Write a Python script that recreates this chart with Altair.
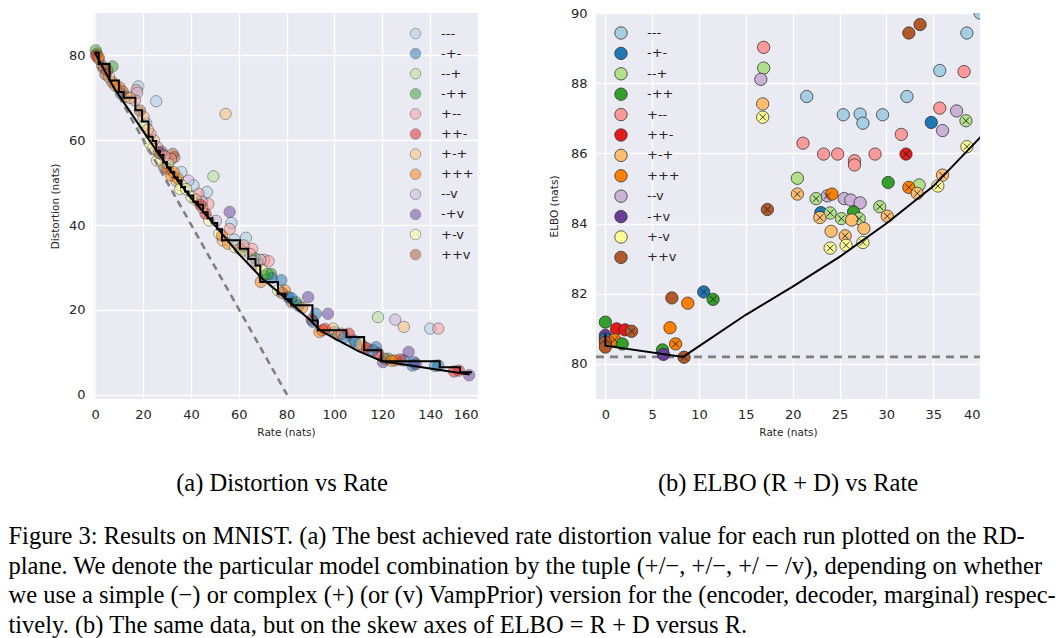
import altair as alt
import pandas as pd

# ---------------- data ----------------
groups = ["---", "-+-", "--+", "-++", "+--", "++-", "+-+", "+++", "--v", "-+v", "+-v", "++v"]
colors = ["#a6cee3", "#1f78b4", "#b2df8a", "#33a02c", "#fb9a99", "#e31a1c",
          "#fdbf6f", "#ff7f00", "#cab2d6", "#6a3d9a", "#ffff99", "#b15928"]

# (a) distortion vs rate: every run
left_group = ["---", "+--", "--+", "--v", "+-+", "-+v", "-+v", "-+v", "--+", "+-+",
              "---", "---", "+--", "--v", "-++", "---", "+--", "+--", "---", "+--",
              "---", "+--", "+--", "---", "--v", "---", "++v", "++v", "+--", "-+v",
              "-+-", "-+-", "++-", "-+-", "-+-", "++-", "+++", "-+-", "-+-", "-+-",
              "-+-", "++-", "-+v", "-+v", "-++", "+++", "++-", "+++", "++-", "-+-",
              "-++", "+++", "+++", "++v", "-+-", "-++", "+-v", "+--", "+-+", "-++",
              "+-+", "+++", "+-v", "++v", "+-v", "+-v", "++-", "+-+", "+-v", "+-v",
              "+-+", "+++", "+++", "++v", "+-v", "---", "+--", "+-+", "+--", "---",
              "+-+", "++v", "+--", "++v", "-+-", "+++", "++v", "+-+", "++v", "++v",
              "++v", "++v", "-++", "++-", "+++", "+-+", "+++", "+--", "-+-", "+-+",
              "++v", "-++", "-+-", "+++", "+--", "--v", "-+-", "+-v", "--+", "-+v",
              "+-v", "+-v", "+++", "--v", "---",
              "+-v", "+-+", "++v", "+--", "+++", "+-v", "+-+", "++-", "--v", "+++",
              "--+", "+--", "--v", "+-v", "-++", "++v", "-+-", "+++", "-+-", "++-",
              "-+-", "++-", "-+-", "+++", "-+v", "-+-", "++-", "++v", "++v", "+++",
              "++v", "+-+"]
left_rate = [140.0, 143.4, 118.2, 125.4, 129.0, 97.3, 89.0, 56.2, 49.4, 54.5,
             25.5, 18.0, 17.3, 17.6, 7.2, 63.0, 70.6, 65.6, 56.9, 56.2,
             46.7, 47.3, 43.2, 41.1, 38.9, 36.0, 33.1, 32.4, 31.7, 131.0,
             117.4, 108.1, 106.0, 100.1, 92.2, 90.5, 93.7, 129.0, 133.3, 132.6,
             143.4, 152.0, 156.3, 120.3, 122.5, 125.4, 127.5, 112.4, 118.2, 77.8,
             73.5, 69.2, 79.3, 82.1, 80.7, 83.9, 76.4, 64.8, 67.7, 67.0,
             53.3, 55.5, 58.4, 60.5, 51.9, 47.6, 46.1, 44.7, 40.3, 36.0,
             33.9, 31.7, 30.3, 28.8, 25.9, 27.4, 25.9, 24.5, 23.1, 21.3,
             20.2, 18.7, 16.6, 13.0, 10.8, 10.1, 7.2, 5.8, 5.0, 2.9,
             1.4, 0.7, 0.2, 0.3, 1.4, 99.4, 101.6, 103.0, 108.8, 111.0,
             121.0, 70.5, 73.8, 95.0, 72.5, 69.0, 82.0, 35.5, 30.5, 27.8,
             22.5, 24.0, 34.5, 44.5, 58.2,
             20.5, 22.0, 26.5, 29.0, 32.8, 38.0, 42.0, 44.0, 50.5, 53.0,
             61.5, 62.0, 66.0, 69.5, 72.0, 78.0, 85.0, 86.5, 91.0, 96.0,
             104.0, 113.5, 116.0, 124.0, 134.0, 142.0, 150.0, 3.5, 4.3, 8.5,
             11.5, 14.5]
left_dist = [15.6, 15.6, 18.3, 17.7, 16.0, 19.1, 23.0, 43.1, 51.5, 66.2,
             69.2, 72.7, 71.8, 71.2, 77.4, 37.0, 31.8, 34.4, 40.5, 39.1,
             47.8, 45.0, 47.4, 49.4, 50.5, 52.5, 56.0, 56.8, 55.6, 10.1,
             11.2, 12.8, 14.4, 14.8, 19.1, 17.7, 14.8, 8.1, 7.7, 6.9,
             6.9, 5.7, 4.6, 7.7, 8.5, 8.1, 8.3, 11.2, 9.8, 27.0,
             28.5, 26.6, 24.6, 21.8, 23.0, 21.8, 24.6, 33.2, 30.9, 32.1,
             36.4, 35.6, 34.8, 34.4, 38.0, 41.1, 42.7, 44.2, 46.6, 49.4,
             50.5, 51.7, 53.3, 53.7, 55.2, 56.8, 58.4, 60.0, 61.5, 64.0,
             65.5, 67.0, 69.4, 70.2, 71.0, 72.5, 73.7, 74.9, 76.5, 77.6,
             79.2, 80.4, 81.2, 80.0, 79.6, 15.6, 14.0, 14.4, 12.4, 12.0,
             8.5, 28.0, 27.5, 15.2, 31.5, 31.8, 22.8, 48.5, 54.5, 57.3,
             59.5, 58.0, 51.0, 45.5, 36.6,
             63.5, 62.5, 57.0, 56.2, 52.5, 48.5, 46.0, 44.8, 41.0, 37.5,
             34.0, 35.2, 31.5, 29.5, 28.5, 24.0, 21.0, 20.5, 17.2, 15.5,
             13.5, 11.0, 10.5, 8.0, 7.2, 6.8, 5.5, 77.0, 75.5, 72.8,
             71.5, 70.0]

# best distortion found so far (staircase) and the convex frontier
stair_rate = [0.0, 1.5, 6.0, 9.9, 11.9, 16.8, 19.6, 22.3, 24.0, 25.5, 27.0, 28.5, 30.0,
              31.5, 33.0, 34.5, 36.0, 37.5, 39.0, 41.0, 43.0, 45.0, 47.0, 49.0, 51.0,
              53.0, 60.5, 64.0, 67.0, 69.0, 76.4, 79.5, 82.0, 90.8, 93.0, 105.0,
              112.4, 119.6, 144.0, 152.5, 157.0]
stair_dist = [80.6, 78.0, 74.1, 71.4, 70.0, 67.1, 64.4, 60.8, 59.8, 57.5, 56.5, 54.8, 53.6,
              52.5, 51.2, 50.5, 49.0, 47.9, 47.0, 45.5, 44.8, 43.0, 41.6, 40.5, 39.0,
              36.4, 34.4, 32.0, 30.5, 26.6, 23.8, 22.5, 21.1, 17.5, 15.2, 13.6,
              10.5, 7.9, 6.5, 5.3, 5.0]
hull_rate = [0.0, 0.0, 8.3, 15.0, 20.0, 25.0, 30.0, 35.0, 40.0, 50.0, 60.0, 70.0, 80.0,
             85.0, 90.0, 94.0, 100.0, 110.0, 120.0, 140.0, 156.5]
hull_dist = [80.86, 80.52, 71.9, 66.4, 62.2, 58.05, 54.0, 50.06, 46.45, 40.0, 33.2, 27.3,
             22.6, 20.0, 17.5, 15.2, 13.3, 10.3, 7.9, 6.2, 4.8]
bound_rate = [0.0, 80.2]
bound_dist = [80.2, 0.0]

# (b) ELBO vs rate
right_group = ["++v", "++v", "---", "---", "+--", "--+", "--v", "+-+", "+-v", "---",
               "+--", "---", "---", "+--", "--v", "-+-", "--v", "--+", "---", "---",
               "---", "---", "+--", "++-", "+--", "+--", "+--", "+--", "+--", "+--",
               "+-v", "-++", "--+", "+++", "+-+", "+-+", "+-v", "--+", "+-+", "--+",
               "--v", "+++", "--v", "--v", "--v", "-+-", "--+", "+-+", "-++", "--+",
               "--+", "+-+", "--+", "+-+", "+-+", "+-+", "+-+", "+-v", "+-v", "+-v",
               "++v", "-+-", "-++", "++v", "+++", "+++", "+++", "-++", "-+v", "++v",
               "-++", "++-", "++-", "++v", "-+v", "-+-", "+++", "-++", "++v", "++v"]
right_rate = [32.4, 33.6, 38.6, 40.0, 16.9, 16.9, 16.6, 16.8, 16.8, 35.7,
              38.3, 21.5, 32.2, 35.7, 37.5, 34.8, 36.0, 38.5, 25.4, 27.2,
              27.5, 29.6, 31.6, 32.1, 21.1, 23.3, 24.8, 26.6, 26.6, 28.8,
              38.6, 30.2, 33.5, 32.4, 33.3, 36.0, 35.5, 20.5, 20.5, 22.5,
              23.7, 24.2, 25.5, 26.2, 27.2, 23.0, 24.0, 22.9, 26.5, 25.2,
              27.1, 26.3, 29.3, 30.1, 24.1, 27.6, 25.6, 24.0, 25.7, 27.5,
              17.3, 10.5, 11.5, 7.1, 8.8, 6.9, 7.5, 6.1, 6.2, 8.4,
              0.0, 1.2, 2.1, 2.8, 0.0, 0.0, 1.0, 1.8, 0.0, 0.0]
right_elbo = [89.43, 89.67, 89.43, 90.0, 89.02, 88.43, 88.11, 87.41, 87.03, 88.36,
              88.33, 87.62, 87.62, 87.29, 87.21, 86.88, 86.65, 86.93, 87.10, 87.12,
              86.86, 87.10, 86.54, 85.98, 86.29, 85.98, 85.98, 85.79, 85.67, 85.98,
              86.19, 85.17, 85.10, 85.03, 84.86, 85.38, 85.07, 85.29, 84.84, 84.71,
              84.79, 84.84, 84.71, 84.67, 84.59, 84.31, 84.30, 84.17, 84.33, 84.14,
              84.14, 84.10, 84.48, 84.21, 83.78, 83.86, 83.65, 83.30, 83.38, 83.46,
              84.40, 82.05, 81.84, 81.88, 81.73, 81.03, 80.57, 80.40, 80.27, 80.19,
              81.19, 81.00, 80.97, 80.93, 80.81, 80.71, 80.69, 80.57, 80.62, 80.48]
right_marked = [0, 0, 0, 0, 0, 0, 0, 0, 1, 0,
                0, 0, 0, 0, 0, 0, 0, 1, 0, 0,
                0, 0, 0, 1, 0, 0, 0, 0, 0, 0,
                1, 0, 0, 1, 1, 1, 1, 0, 1, 1,
                1, 0, 0, 0, 0, 0, 1, 1, 0, 1,
                1, 0, 1, 1, 0, 0, 1, 1, 1, 1,
                1, 1, 1, 0, 0, 0, 1, 0, 0, 1,
                0, 0, 0, 1, 0, 0, 1, 0, 0, 0]
best_elbo_rate = [-1.0, 40.0]
best_elbo = [80.2, 80.2]

caption_a = "(a) Distortion vs Rate"
caption_b = "(b) ELBO (R + D) vs Rate"
caption_lines = [
    "Figure 3: Results on MNIST. (a) The best achieved rate distortion value for each run plotted on the RD-",
    "plane. We denote the particular model combination by the tuple (+/\u2212, +/\u2212, +/ \u2212 /v), depending on whether",
    "we use a simple (\u2212) or complex (+) (or (v) VampPrior) version for the (encoder, decoder, marginal) respec-",
    "tively. (b) The same data, but on the skew axes of ELBO = R + D versus R.",
]

# ---------------- frames ----------------
left_df = pd.DataFrame({"rate": left_rate, "distortion": left_dist, "model": left_group})
stair_df = pd.DataFrame({"rate": stair_rate, "distortion": stair_dist, "i": range(len(stair_rate))})
hull_df = pd.DataFrame({"rate": hull_rate, "distortion": hull_dist, "i": range(len(hull_rate))})
bound_df = pd.DataFrame({"rate": bound_rate, "distortion": bound_dist})
right_df = pd.DataFrame({"rate": right_rate, "elbo": right_elbo, "model": right_group,
                         "marked": right_marked})
best_df = pd.DataFrame({"rate": best_elbo_rate, "elbo": best_elbo})

FONT = "DejaVu Sans"
SERIF = "Liberation Serif"
INK = "#262626"
axis_style = dict(grid=True, gridColor="white", gridWidth=1.3, domain=False, ticks=False,
                  labelFont=FONT, labelFontSize=13, labelColor=INK, labelPadding=9,
                  titleFont=FONT, titleFontSize=10.5, titleFontWeight="normal",
                  titleColor=INK)

W, H = 384, 386

# ---------------- (a) ----------------
xa = alt.X("rate:Q", scale=alt.Scale(domain=[-0.5, 160], nice=False, zero=False),
           axis=alt.Axis(values=list(range(0, 161, 20)), title="Rate (nats)",
                         titlePadding=6, **axis_style))
ya = alt.Y("distortion:Q", scale=alt.Scale(domain=[-1, 90], nice=False, zero=False),
           axis=alt.Axis(values=[0, 20, 40, 60, 80], title="Distortion (nats)",
                         titlePadding=8, **axis_style))

pts_a = alt.Chart(left_df).mark_circle(size=130, opacity=0.5, stroke="#1a1a1a",
                                       strokeWidth=0.8).encode(
    x=xa, y=ya,
    color=alt.Color("model:N", scale=alt.Scale(domain=groups, range=colors),
                    legend=alt.Legend(title=None, orient="none", legendX=315, legendY=14,
                                      padding=0, symbolType="circle", symbolSize=112,
                                      symbolOpacity=0.5, symbolStrokeColor="#333333",
                                      symbolStrokeWidth=0.8, labelFont=FONT,
                                      labelFontSize=13, labelColor=INK, labelOffset=19,
                                      rowPadding=5.1)))
bound_a = alt.Chart(bound_df).mark_line(color="#808080", strokeWidth=2.6,
                                        strokeDash=[7, 5]).encode(x="rate:Q", y="distortion:Q")
hull_a = alt.Chart(hull_df).mark_line(color="black", strokeWidth=2).encode(
    x="rate:Q", y="distortion:Q", order="i:Q")
stair_a = alt.Chart(stair_df).mark_line(color="black", strokeWidth=2,
                                        interpolate="step-after").encode(
    x="rate:Q", y="distortion:Q", order="i:Q")

left = alt.layer(pts_a, bound_a, hull_a, stair_a).properties(
    width=W, height=H,
    title=alt.TitleParams(caption_a, orient="bottom", font=SERIF, fontSize=24.5,
                          fontWeight="normal", color="black", offset=34, dx=-4))

# ---------------- (b) ----------------
xb = alt.X("rate:Q", scale=alt.Scale(domain=[-1, 40], nice=False, zero=False),
           axis=alt.Axis(values=list(range(0, 41, 5)), title="Rate (nats)",
                         titlePadding=6, **axis_style))
yb = alt.Y("elbo:Q", scale=alt.Scale(domain=[79, 90], nice=False, zero=False),
           axis=alt.Axis(values=list(range(80, 91, 2)), title="ELBO (nats)",
                         titlePadding=11, **axis_style))

best_b = alt.Chart(best_df).mark_line(color="#808080", strokeWidth=2.6,
                                      strokeDash=[8, 6], clip=True).encode(x=xb, y=yb)
pts_b = alt.Chart(right_df).mark_circle(size=152, opacity=1, stroke="#222222",
                                        strokeWidth=0.7, clip=True).encode(
    x="rate:Q", y="elbo:Q",
    color=alt.Color("model:N", scale=alt.Scale(domain=groups, range=colors),
                    legend=alt.Legend(title=None, orient="none", legendX=18, legendY=13,
                                      padding=0, symbolType="circle", symbolSize=155,
                                      symbolOpacity=1, symbolStrokeColor="#333333",
                                      symbolStrokeWidth=0.8, labelFont=FONT,
                                      labelFontSize=13, labelColor=INK, labelOffset=19,
                                      rowPadding=4.4)))
cross_b = alt.Chart(right_df).transform_filter("datum.marked == 1").mark_point(
    shape="M-1,-1L1,1M-1,1L1,-1", filled=False, stroke="#222222", strokeWidth=0.9,
    size=42, opacity=1, clip=True).encode(x="rate:Q", y="elbo:Q")
hull_b = alt.Chart(hull_df).transform_calculate(
    elbo="datum.rate + datum.distortion").mark_line(
    color="black", strokeWidth=2, clip=True).encode(x="rate:Q", y="elbo:Q", order="i:Q")

right = alt.layer(best_b, pts_b, cross_b, hull_b).properties(
    width=W, height=H,
    title=alt.TitleParams(caption_b, orient="bottom", font=SERIF, fontSize=24.5,
                          fontWeight="normal", color="black", offset=34))

chart = alt.hconcat(left, right, spacing=118, bounds="flush").resolve_scale(
    color="independent").resolve_legend(color="independent").properties(
    title=alt.TitleParams(caption_lines, orient="bottom", anchor="start",
                          font=SERIF, fontSize=24.5, fontWeight="normal",
                          color="black", lineHeight=29.5, offset=30, dx=-42),
    padding={"left": 8, "top": 7, "right": 4, "bottom": 4}
).configure_view(fill="#EAEAF2", stroke=None)

chart.save("out.html", embed_options={"renderer": "svg", "actions": False})
